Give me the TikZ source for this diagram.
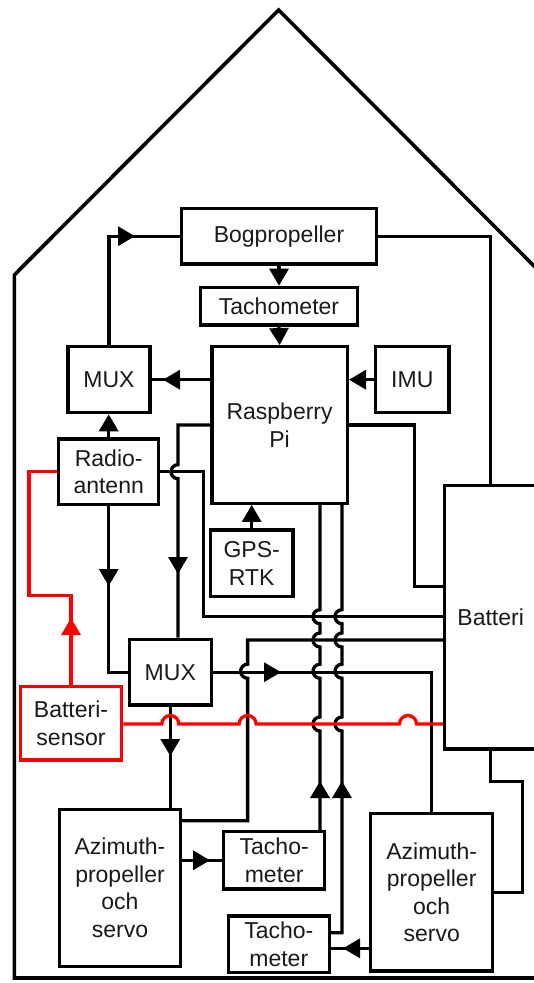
\documentclass[tikz,border=0pt]{standalone}
\usepackage{fontspec}
\setmainfont{Liberation Sans}
\usetikzlibrary{arrows.meta,calc}
\begin{document}
\begin{tikzpicture}[x=1pt,y=-1pt,
  box/.style={draw,line width=3.3pt,inner sep=0pt,align=center,font=\fontsize{23}{27.5}\selectfont,text=black!90},
  ln/.style={line width=3.3pt,line join=miter},
  rl/.style={ln,red},
  arr/.style={line width=3.3pt,-{Triangle[length=17pt,width=19pt]}},
  vhopd/.style={insert path={arc[start angle=270,end angle=90,radius=7]}},
  vhopu/.style={insert path={arc[start angle=90,end angle=270,radius=7]}},
  rhop/.style={insert path={arc[start angle=180,end angle=360,radius=8.5]}},
]
\useasboundingbox (0,0) rectangle (534,983);
% house outline
\draw[line width=3.6pt,line join=miter] (14.3,978) -- (14.3,275) -- (278.6,10) -- (543,275) -- (543,978) -- cycle;

% boxes
\node[box,minimum width=195pt,minimum height=55.7pt] (bog) at (279,236.2) {Bogpropeller};
\node[box,minimum width=156.7pt,minimum height=37.7pt] (tacho) at (279,306.2) {Tachometer};
\node[box,minimum width=135.5pt,minimum height=156.6pt] (rpi) at (279.6,425) {Raspberry\\Pi};
\node[box,minimum width=81.8pt,minimum height=66pt] (muxt) at (109,379.7) {MUX};
\node[box,minimum width=73.2pt,minimum height=66pt] (imu) at (412.3,379.7) {IMU};
\node[box,minimum width=100pt,minimum height=65.3pt] (radio) at (108.7,471.7) {Radio-\\antenn};
\node[box,minimum width=82.4pt,minimum height=66.7pt] (gps) at (251.7,563.3) {GPS-\\RTK};
\node[box,minimum width=92.5pt,minimum height=263.3pt] (batt) at (490.7,617.3) {Batteri};
\node[box,minimum width=81.8pt,minimum height=65.7pt] (muxb) at (170.3,672.2) {MUX};
\node[box,draw=red,minimum width=101.2pt,minimum height=73.3pt] (sens) at (71,723.3) {Batteri-\\sensor};
\node[box,minimum width=121pt,minimum height=157.4pt] (azl) at (120,888) {Azimuth-\\propeller\\och\\servo};
\node[box,minimum width=100.8pt,minimum height=57.3pt] (tachu) at (274.2,860.3) {Tacho-\\meter};
\node[box,minimum width=101.2pt,minimum height=56.3pt] (tachl) at (278.8,944.2) {Tacho-\\meter};
\node[box,minimum width=122.2pt,minimum height=157.7pt] (azr) at (431.7,892.2) {Azimuth-\\propeller\\och\\servo};

% top connectors
\draw[ln] (muxt.north) |- (bog.west);
\draw[arr] (118,236.2) -- (135,236.2);
\draw[ln] (bog.east) -| (batt.north);
\draw[arr] (bog.south) -- (tacho.north);
\draw[arr] (tacho.south) -- (rpi.north);
\draw[ln] (rpi.west |- muxt.east) -- (muxt.east);
\draw[arr] (180,379.7) -- (163,379.7);
\draw[arr] (imu.west) -- (imu.west -| rpi.east);
\draw[arr] (radio.north) -- (radio.north |- muxt.south);
\draw[arr] (gps.north) -- (gps.north |- rpi.south);

% Raspberry Pi left to lower MUX
\draw[ln] (rpi.west) -- (178,425) -- (178,464.7) [vhopd] -- (178,0 |- muxb.north);
\draw[arr] (178,557) -- (178,574);
% Raspberry Pi right to battery
\draw[ln] (rpi.east) -- (414.8,425) -- (414.8,586.7) -- (batt.west |- 0,586.7);
% radio right to battery
\draw[ln] (radio.east) -- (203.7,471.7) -- (203.7,616.7) -- (batt.west |- 0,616.7);
% radio down to lower MUX
\draw[ln] (radio.south) |- (muxb.west);
\draw[arr] (108.7,569) -- (108.7,586);
% lower MUX to right azimuth
\draw[ln] (muxb.east) -| (azr.north);
\draw[arr] (264,672.2) -- (281,672.2);
% battery to left azimuth
\draw[ln] (batt.west |- 0,640) -- (247.6,640) -- (247.6,664.2) [vhopd] -- (247.6,820.7) -- (azl.east |- 0,820.7);
% lower MUX to left azimuth
\draw[ln] (muxb.south) -- (muxb.south |- azl.north);
\draw[arr] (170.3,739) -- (170.3,756);
% azimuth left to tachometer
\draw[ln] (azl.east |- tachu.west) -- (tachu.west);
\draw[arr] (193,860.3) -- (210,860.3);
% tachometers up to Raspberry Pi
\draw[ln] (320,0 |- tachu.north) -- (320,731) [vhopu] -- (320,678.2) [vhopu] -- (320,647) [vhopu] -- (320,623.7) [vhopu] -- (320,0 |- rpi.south);
\draw[arr] (320,798) -- (320,781);
\draw[ln] ([yshift=11.5pt]tachl.east) -- (342,932.7) -- (342,731) [vhopu] -- (342,678.2) [vhopu] -- (342,647) [vhopu] -- (342,623.7) [vhopu] -- (342,0 |- rpi.south);
\draw[arr] (342,798) -- (342,781);
% azimuth right to lower tachometer
\draw[ln] (azr.west |- 0,948.3) -- (tachl.east |- 0,948.3);
\draw[arr] (360,948.3) -- (343,948.3);
% battery to azimuth right
\draw[ln] (batt.south) -- (490.7,781.7) -- (522.8,781.7) |- (azr.east);

% red battery sensor lines
\draw[rl] (sens.north) -- (71,595.7) -- (29,595.7) |- (radio.west);
\draw[arr,red] (71,635) -- (71,618);
\draw[rl] (sens.east |- 0,724) -- (161.8,724) [rhop] -- (239.1,724) [rhop] -- (399.5,724) [rhop] -- (batt.west |- 0,724);
\end{tikzpicture}
\end{document}
